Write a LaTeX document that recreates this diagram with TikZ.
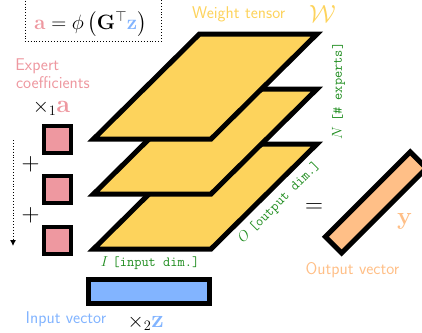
\documentclass[tikz,border=0pt]{standalone}
\usepackage{amsmath}
\usetikzlibrary{arrows.meta}
\definecolor{wyellow}{RGB}{253,211,92}
\definecolor{epink}{RGB}{238,152,160}
\definecolor{iblue}{RGB}{130,180,255}
\definecolor{oorange}{RGB}{255,191,135}
\definecolor{dgreen}{RGB}{30,140,30}
\tikzset{
  slice/.style={draw=black, fill=wyellow, line width=5pt, line join=miter},
  coefbox/.style={draw=black, fill=epink, line width=4pt, minimum size=27pt, inner sep=0pt},
  vecbox/.style={draw=black, line width=5pt, inner sep=0pt},
  lbl/.style={font=\sffamily\fontsize{17}{20}\selectfont, inner sep=0pt},
  dimlbl/.style={text=dgreen, font=\fontsize{14}{16}\selectfont, inner sep=0pt},
  plain/.style={inner sep=0pt},
}
\begin{document}
\begin{tikzpicture}[x=1pt,y=-1pt]
\useasboundingbox (0,0) rectangle (422,332);
% formula box
\draw[dotted, line width=0.9pt] (25,-8) rectangle (161,41.5);
\node[plain] (formula) at (90.5,24) {\fontsize{21}{25}\selectfont$\textcolor{epink}{\mathbf{a}} = \phi\left(\mathbf{G}^{\top}\textcolor{iblue}{\mathbf{z}}\right)$};
% weight tensor slices
\foreach \yb in {249,194,139}
  \draw[slice] (93.5,\yb) -- (211,\yb) -- (317,{\yb-105}) -- (199.5,{\yb-105}) -- cycle;
% coefficients
\node[coefbox] (c1) at (57.2,139.5) {};
\node[coefbox] (c2) at (57.2,189.5) {};
\node[coefbox] (c3) at (57.2,240) {};
\node[plain, font=\fontsize{24}{28}\selectfont] (p1) at (30.5,164.5) {$+$};
\node[plain, font=\fontsize{24}{28}\selectfont] (p2) at (30.5,215) {$+$};
\coordinate (atop) at (13,140);
\coordinate (abot) at (13,246);
\draw[dotted, line width=0.9pt, -{Latex[length=6pt,width=6pt]}] (atop) -- (abot);
% vectors
\node[vecbox, fill=iblue, minimum width=121pt, minimum height=24pt] (zvec) at (149,291.5) {};
\node[vecbox, fill=oorange, minimum width=120pt, minimum height=23pt, rotate=45] (yvec) at (375.9,202.5) {};
% labels
\node[lbl, text=epink, anchor=base west] (exp1) at (15.2,70.7) {Expert};
\node[lbl, text=epink, anchor=base west] (exp2) at (15.9,88.3) {coefficients};
\node[plain, anchor=base west] (x1a) at (32.6,112.5) {\fontsize{22}{26}\selectfont$\times_1$\fontsize{25}{28}\selectfont$\textcolor{epink}{\mathbf{a}}$};
\node[lbl, text=wyellow, anchor=base west] (wt) at (192,18.3) {Weight tensor};
\node[plain, text=wyellow] (wcal) at (322.5,13.8) {\fontsize{34}{38}\selectfont$\mathcal{W}$};
\node[dimlbl, rotate=90] (nlbl) at (338.5,91) {$N$ \texttt{[\# experts]}};
\node[dimlbl] (ilbl) at (150,263) {$I$ \texttt{[input dim.]}};
\node[dimlbl, rotate=45] (olbl) at (279.5,202.5) {$O$ \texttt{[output dim.]}};
\node[plain, font=\fontsize{24}{28}\selectfont] (eq) at (314,208) {$=$};
\node[plain, anchor=base west, text=oorange] (ylbl) at (397,224.5) {\fontsize{28}{32}\selectfont$\mathbf{y}$};
\node[lbl, text=oorange, anchor=base] (outlbl) at (352.5,274) {Output vector};
\node[lbl, text=iblue, anchor=base west] (inlbl) at (25.5,323) {Input vector};
\node[plain, anchor=base west] (x2z) at (127.5,327) {\fontsize{21}{25}\selectfont$\times_2$\fontsize{28}{32}\selectfont$\textcolor{iblue}{\mathbf{z}}$};
\end{tikzpicture}
\end{document}
